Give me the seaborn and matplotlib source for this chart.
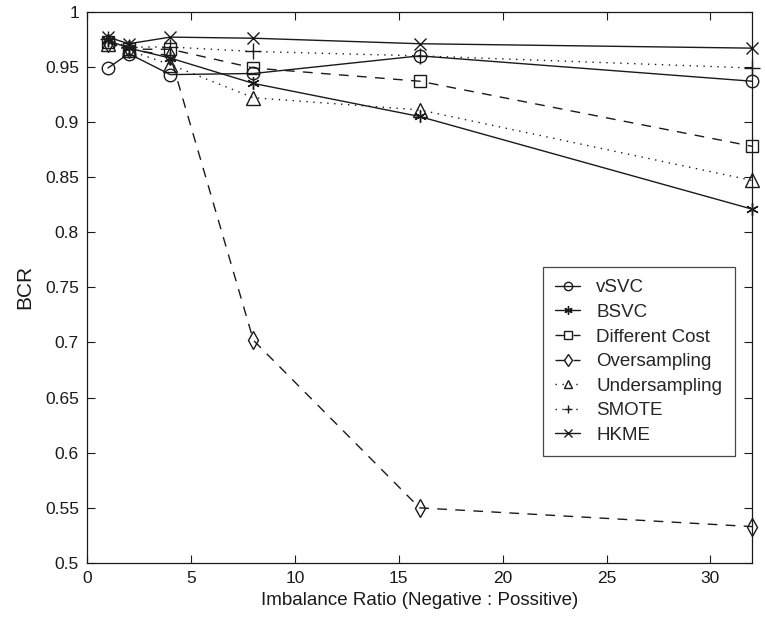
import matplotlib
matplotlib.use("Agg")
import matplotlib.pyplot as plt
import seaborn as sns
import pandas as pd

ratios = [1, 2, 4, 8, 16, 32]
vsvc = [0.949, 0.962, 0.943, 0.944, 0.960, 0.937]
bsvc = [0.974, 0.967, 0.958, 0.935, 0.905, 0.821]
diff_cost = [0.973, 0.966, 0.966, 0.949, 0.937, 0.878]
oversampling = [0.972, 0.966, 0.960, 0.702, 0.550, 0.533]
undersampling = [0.971, 0.965, 0.952, 0.922, 0.911, 0.847]
smote = [0.975, 0.968, 0.968, 0.964, 0.960, 0.949]
hkme = [0.977, 0.971, 0.977, 0.976, 0.971, 0.967]

series_names = ["vSVC", "BSVC", "Different Cost", "Oversampling",
                "Undersampling", "SMOTE", "HKME"]
series_values = [vsvc, bsvc, diff_cost, oversampling, undersampling, smote, hkme]

styles = {
    "vSVC": dict(marker="o", ls="-", ms=9),
    "BSVC": dict(marker=(6, 2, 0), ls="-", ms=9),
    "Different Cost": dict(marker="s", ls=(0, (7, 6)), ms=8),
    "Oversampling": dict(marker="d", ls=(0, (7, 6)), ms=9),
    "Undersampling": dict(marker="^", ls=(0, (1, 4)), ms=10),
    "SMOTE": dict(marker="+", ls=(0, (1, 4)), ms=11),
    "HKME": dict(marker="x", ls="-", ms=8),
}

sns.set_theme(style="ticks")
plt.rcParams["font.family"] = ["Liberation Sans", "DejaVu Sans"]

fig = plt.figure(figsize=(7.65, 6.19), dpi=100)
ax = fig.add_axes([0.114, 0.0905, 0.869, 0.8905])

for name, vals in zip(series_names, series_values):
    df = pd.DataFrame({"ratio": ratios, "bcr": vals})
    st = styles[name]
    sns.lineplot(data=df, x="ratio", y="bcr", ax=ax, color="k",
                 marker=st["marker"], linestyle=st["ls"], markersize=st["ms"],
                 markerfacecolor="none", markeredgecolor="k",
                 markeredgewidth=1.0, linewidth=1.0, label=name,
                 clip_on=False, zorder=3)

ax.set_xlim(0, 32)
ax.set_ylim(0.5, 1.0)
ax.set_xticks([0, 5, 10, 15, 20, 25, 30])
ax.set_yticks([0.5, 0.55, 0.6, 0.65, 0.7, 0.75, 0.8, 0.85, 0.9, 0.95, 1.0])
ax.set_yticklabels(["0.5", "0.55", "0.6", "0.65", "0.7", "0.75", "0.8",
                    "0.85", "0.9", "0.95", "1"])
ax.tick_params(direction="in", top=True, right=True, length=6,
               labelsize=12.5, colors="k", width=0.8, pad=6)
for sp in ax.spines.values():
    sp.set_visible(True)
    sp.set_color("k")
    sp.set_linewidth(0.9)

ax.set_xlabel("Imbalance Ratio (Negative : Possitive)", fontsize=13.5,
              color="k", labelpad=4)
ax.set_ylabel("BCR", fontsize=15, color="k", labelpad=8)

leg = ax.legend(loc="upper left", bbox_to_anchor=(0.686, 0.537),
                fontsize=13.5, frameon=True, fancybox=False, edgecolor="k",
                handlelength=1.33, labelspacing=0.40, borderpad=0.65,
                handletextpad=0.85, borderaxespad=0)
leg.get_frame().set_linewidth(0.9)
for h in leg.legend_handles:
    h.set_markersize(6)

fig.savefig("out.png", dpi=100)
